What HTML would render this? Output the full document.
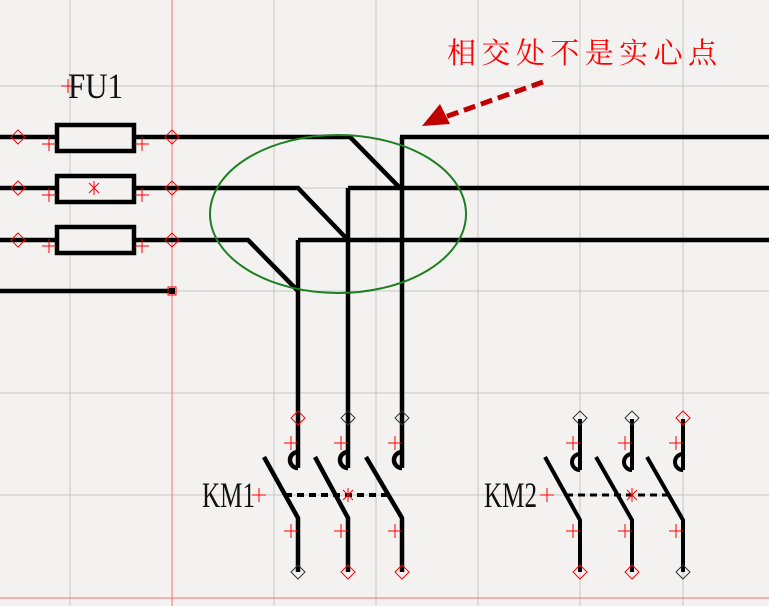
<!DOCTYPE html>
<html><head><meta charset="utf-8"><style>
body{margin:0;background:#f3f2f1;}
svg{display:block}
</style></head><body>
<svg width="769" height="606" viewBox="0 0 769 606" xmlns="http://www.w3.org/2000/svg">
<rect width="769" height="606" fill="#f3f2f1"/>
<g stroke="#c8c6c4" stroke-width="1">
<line x1="70" y1="0" x2="70" y2="606"/><line x1="274" y1="0" x2="274" y2="606"/><line x1="376" y1="0" x2="376" y2="606"/><line x1="478" y1="0" x2="478" y2="606"/><line x1="580" y1="0" x2="580" y2="606"/><line x1="683" y1="0" x2="683" y2="606"/>
<line x1="0" y1="86" x2="769" y2="86"/><line x1="0" y1="188" x2="769" y2="188"/><line x1="0" y1="291" x2="769" y2="291"/><line x1="0" y1="393" x2="769" y2="393"/><line x1="0" y1="495" x2="769" y2="495"/>
</g>
<line x1="172" y1="0" x2="172" y2="606" stroke="#ff7070" stroke-width="1"/>
<line x1="0" y1="598" x2="769" y2="598" stroke="#ff7070" stroke-width="1"/>
<g stroke="#000" stroke-width="4.5" fill="none">
<polyline points="0,137 350,137 400,188"/>
<polyline points="0,188 298,188 348,240"/>
<polyline points="0,240 248,240 298,291"/>
<line x1="0" y1="291" x2="172" y2="291"/>
<line x1="400" y1="137" x2="769" y2="137"/>
<line x1="348" y1="188" x2="769" y2="188"/>
<line x1="298" y1="240" x2="769" y2="240"/>
<line x1="402" y1="137" x2="402" y2="468"/>
<line x1="348" y1="188" x2="348" y2="468"/>
<line x1="298" y1="240" x2="298" y2="468"/>
<rect x="57" y="125" width="77" height="26" fill="#f3f2f1"/>
<rect x="57" y="176" width="77" height="26" fill="#f3f2f1"/>
<rect x="57" y="227" width="77" height="26" fill="#f3f2f1"/>
</g>
<rect x="169" y="288" width="6" height="6" fill="#000"/>
<rect x="168" y="287" width="8" height="8" fill="none" stroke="red" stroke-width="1"/>
<ellipse cx="338" cy="214" rx="128" ry="79" fill="none" stroke="#1d8020" stroke-width="2"/>
<g fill="none" stroke="red" stroke-width="1">
<path d="M18,130 l7,7 -7,7 -7,-7z M18,181 l7,7 -7,7 -7,-7z M18,233 l7,7 -7,7 -7,-7z M172,130 l7,7 -7,7 -7,-7z M172,181 l7,7 -7,7 -7,-7z M172,233 l7,7 -7,7 -7,-7z"/>
<path d="M42,144h14M49,137v14 M42,195h14M49,188v14 M42,246h14M49,239v14 M135,144h14M142,137v14 M135,195h14M142,188v14 M135,246h14M142,239v14"/>
<path d="M89,183l10,10M99,183l-10,10M94,181v14M61,86h14M68,79v14"/>
</g>
<g stroke="#000" stroke-width="4.5" fill="none">
<path d="M298,452 a8,8 0 0 0 0,16 M348,452 a8,8 0 0 0 0,16 M402,452 a8,8 0 0 0 0,16"/>
<path d="M264,457 L298,518 L298,572 M315,457 L348,518 L348,572 M366,457 L402,518 L402,572"/>
</g>
<g stroke="#000" stroke-width="4" fill="none">
<path d="M580,419 v51 M632,419 v51 M683,419 v51"/>
<path d="M580,454 a8,8 0 0 0 0,16 M632,454 a8,8 0 0 0 0,16 M683,454 a8,8 0 0 0 0,16"/>
<path d="M545,457 L580,520 L580,572 M596,457 L632,520 L632,572 M647,457 L683,520 L683,572"/>
</g>
<line x1="285" y1="495" x2="392" y2="495" stroke="#000" stroke-width="4" stroke-dasharray="7,5"/>
<line x1="566" y1="495" x2="668" y2="495" stroke="#000" stroke-width="3" stroke-dasharray="7,5"/>
<g fill="none" stroke="red" stroke-width="1">
<path d="M298,411 l7,7 -7,7 -7,-7z M402,565 l7,7 -7,7 -7,-7z M348,565 l7,7 -7,7 -7,-7z M580,565 l7,7 -7,7 -7,-7z M632,565 l7,7 -7,7 -7,-7z M683,411 l7,7 -7,7 -7,-7z"/>
<path d="M284,443h14M291,436v14 M334,443h14M341,436v14 M388,443h14M395,436v14 M284,531h14M291,524v14 M334,531h14M341,524v14 M388,531h14M395,524v14 M252,495h14M259,488v14 M343,490l10,10M353,490l-10,10M348,488v14"/>
<path d="M566,443h14M573,436v14 M618,443h14M625,436v14 M669,443h14M676,436v14 M566,531h14M573,524v14 M618,531h14M625,524v14 M669,531h14M676,524v14 M540,495h14M547,488v14 M627,490l10,10M637,490l-10,10M632,488v14"/>
</g>
<g fill="none" stroke="#333" stroke-width="1">
<path d="M348,411 l7,7 -7,7 -7,-7z M402,411 l7,7 -7,7 -7,-7z M298,565 l7,7 -7,7 -7,-7z M580,411 l7,7 -7,7 -7,-7z M632,411 l7,7 -7,7 -7,-7z M683,565 l7,7 -7,7 -7,-7z"/>
</g>
<g font-family="Liberation Serif, serif" font-size="36" fill="#111">
<text x="68" y="98" textLength="55" lengthAdjust="spacingAndGlyphs">FU1</text>
<text x="202" y="507" textLength="53" lengthAdjust="spacingAndGlyphs">KM1</text>
<text x="484" y="507" textLength="53" lengthAdjust="spacingAndGlyphs">KM2</text>
</g>
<text x="447" y="63" font-family="Liberation Sans, 'Noto Serif CJK SC', 'Noto Sans CJK SC', sans-serif" font-size="29" fill="red" textLength="270" lengthAdjust="spacing">相交处不是实心点</text>
<line x1="543" y1="82" x2="445" y2="117" stroke="#c00000" stroke-width="5" stroke-dasharray="12,6"/>
<polygon points="422,126 440,104 450,124" fill="#c00000"/>
</svg>
</body></html>
